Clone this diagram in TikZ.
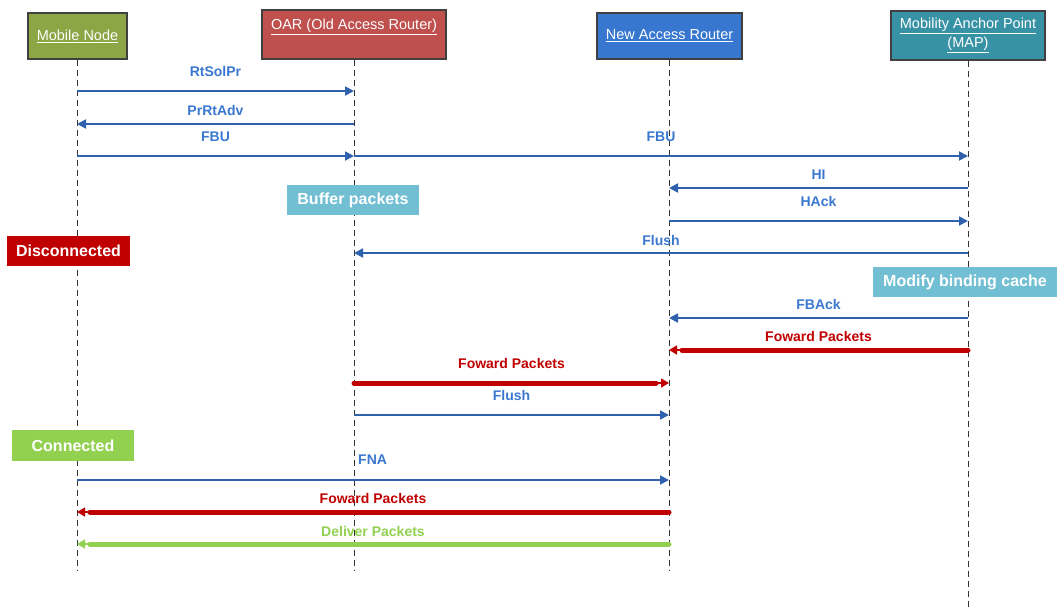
\documentclass[tikz,border=0pt]{standalone}
\usepackage{fontspec}
\setmainfont{Liberation Sans}
\usetikzlibrary{arrows.meta}
\definecolor{mnfill}{HTML}{8CA646}
\definecolor{oarfill}{HTML}{C0504D}
\definecolor{narfill}{HTML}{3877D0}
\definecolor{mapfill}{HTML}{3892A6}
\definecolor{msgline}{HTML}{2F61AC}
\definecolor{msgtext}{HTML}{3A78D0}
\definecolor{fwdred}{HTML}{C00000}
\definecolor{okgreen}{HTML}{92D050}
\definecolor{notefill}{HTML}{72BFD3}
\tikzset{
  actor/.style={draw=black!75, line width=1.2pt, text=white, font=\fontsize{14.5}{17}\selectfont,
    align=center, inner sep=2pt},
  life/.style={draw=black!80, line width=0.9pt, dash pattern=on 6pt off 4pt},
  msg/.style={draw=msgline, line width=1.8pt, -{Triangle[length=9pt,width=9pt]}},
  lbl/.style={text=msgtext, font=\bfseries\fontsize{14}{16}\selectfont},
  redlbl/.style={text=fwdred, font=\bfseries\fontsize{14}{16}\selectfont},
  greenlbl/.style={text=okgreen, font=\bfseries\fontsize{14}{16}\selectfont},
  thinhead/.style={line width=1.4pt, -{Triangle[length=8pt,width=9pt]}},
  thickbody/.style={line width=5pt, line cap=round, shorten >=13pt},
  note/.style={text=white, font=\bfseries\fontsize{16}{18}\selectfont, inner sep=0pt},
}
\begin{document}
\begin{tikzpicture}[x=1pt, y=-1pt]
\useasboundingbox (0,0) rectangle (1057,608);

% participants
\node[actor, fill=mnfill, minimum width=99pt, minimum height=46pt] (mn) at (77.5,36) {\underline{Mobile Node}};
\node[actor, fill=oarfill, minimum width=184pt, minimum height=49pt] (oar) at (354,34.5) {\underline{OAR (Old Access Router)}\\[-2pt]\strut};
\node[actor, fill=narfill, minimum width=145pt, minimum height=46pt] (nar) at (669.5,36) {\underline{New Access Router}};
\node[actor, fill=mapfill, minimum width=154pt, minimum height=49pt] (map) at (968,35.5) {\underline{Mobility Anchor Point}\\[2pt]\underline{(MAP)}};

% lifeline ends
\coordinate (mnend) at (77,570);
\coordinate (oarend) at (354,570);
\coordinate (narend) at (669,570);
\coordinate (mapend) at (968,608);

\draw[life] (mn.south -| mnend) -- (mnend);
\draw[life] (oar.south -| oarend) -- (oarend);
\draw[life] (nar.south -| narend) -- (narend);
\draw[life] (map.south -| mapend) -- (mapend);

% state notes
\node[note, fill=notefill, minimum width=132pt, minimum height=30pt] (buf) at (353,200) {Buffer packets};
\node[note, fill=fwdred, minimum width=123pt, minimum height=30pt] (disc) at (68.5,251) {Disconnected};
\node[note, fill=notefill, minimum width=184pt, minimum height=30pt] (mbc) at (965,282) {Modify binding cache};
\node[note, fill=okgreen, minimum width=122pt, minimum height=31pt] (conn) at (73,445.5) {Connected};

% messages
\draw[msg] (mnend |- 0,91) -- (oarend |- 0,91) node[lbl, midway, yshift=20pt] {RtSolPr};
\draw[msg] (oarend |- 0,124) -- (mnend |- 0,124) node[lbl, midway, yshift=14pt] {PrRtAdv};
\draw[msg] (mnend |- 0,156) -- (oarend |- 0,156) node[lbl, midway, yshift=19pt] {FBU};
\draw[msg] (oarend |- 0,156) -- (mapend |- 0,156) node[lbl, midway, yshift=19pt] {FBU};
\draw[msg] (mapend |- 0,188) -- (narend |- 0,188) node[lbl, midway, yshift=13pt] {HI};
\draw[msg] (narend |- 0,221) -- (mapend |- 0,221) node[lbl, midway, yshift=20pt] {HAck};
\draw[msg] (mapend |- 0,253) -- (oarend |- 0,253) node[lbl, midway, yshift=13pt] {Flush};
\draw[msg] (mapend |- 0,318) -- (narend |- 0,318) node[lbl, midway, yshift=14pt] {FBAck};

% forwarded packets MAP -> NAR
\draw[fwdred, thinhead] (mapend |- 0,350) -- (narend |- 0,350);
\draw[fwdred, thickbody] (mapend |- 0,350) -- (narend |- 0,350) node[redlbl, midway, yshift=14pt] {Foward Packets};

% forwarded packets OAR -> NAR
\draw[fwdred, thinhead] (oarend |- 0,383) -- (narend |- 0,383);
\draw[fwdred, thickbody] (oarend |- 0,383) -- (narend |- 0,383) node[redlbl, midway, yshift=20pt] {Foward Packets};

\draw[msg] (oarend |- 0,415) -- (narend |- 0,415) node[lbl, midway, yshift=20pt] {Flush};

\draw[msg] (mnend |- 0,480) -- (narend |- 0,480) node[lbl, pos=0.5, anchor=west, xshift=-19pt, yshift=20pt] (fna) {FNA};

% forwarded packets NAR -> MN
\draw[fwdred, thinhead] (narend |- 0,512) -- (mnend |- 0,512);
\draw[fwdred, thickbody] (narend |- 0,512) -- (mnend |- 0,512) node[redlbl, midway, yshift=14pt] {Foward Packets};

% delivery NAR -> MN
\draw[okgreen, thinhead] (narend |- 0,544) -- (mnend |- 0,544);
\draw[okgreen, thickbody] (narend |- 0,544) -- (mnend |- 0,544) node[greenlbl, midway, yshift=13pt] {Deliver Packets};
\end{tikzpicture}
\end{document}
